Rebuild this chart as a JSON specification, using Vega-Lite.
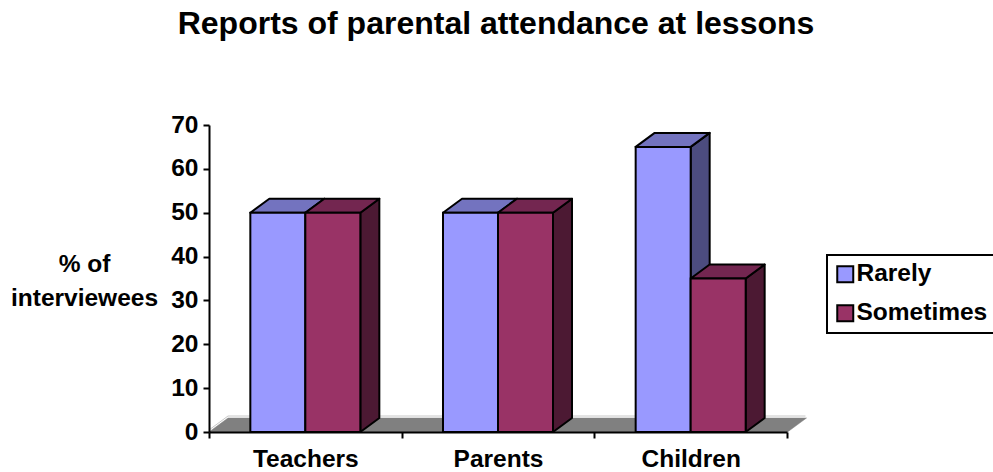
{"$schema":"https://vega.github.io/schema/vega-lite/v6.json","width":578,"height":307,"autosize":"none","padding":{"left":209,"top":125,"right":206,"bottom":40},"background":"white","view":{"stroke":null},
"title":{"text":"Reports of parental attendance at lessons","anchor":"middle","frame":"group","dx":-2,"offset":71,"fontSize":32,"font":"Liberation Sans","fontWeight":"bold","color":"black"},
"config":{"font":"Liberation Sans","legend":{"strokeWidth":2}},
"data":{"values":[{"group":"Teachers","series":"Rarely","value":50},{"group":"Teachers","series":"Sometimes","value":50},{"group":"Parents","series":"Rarely","value":50},{"group":"Parents","series":"Sometimes","value":50},{"group":"Children","series":"Rarely","value":65},{"group":"Children","series":"Sometimes","value":35}]},
"encoding":{
"x":{"field":"group","type":"nominal","title":null,"scale":{"domain":["Teachers","Parents","Children"],"paddingInner":0,"paddingOuter":0},"axis":{"tickBand":"extent","labelAngle":0,"labelFontSize":24.5,"labelFontWeight":"bold","labelColor":"black","labelPadding":9,"domainColor":"black","domainWidth":2,"tickColor":"black","tickWidth":2,"tickSize":6,"zindex":1,"grid":false}},
"xOffset":{"field":"series","type":"nominal","scale":{"domain":["Rarely","Sometimes"],"paddingInner":0,"paddingOuter":0.7515}},
"y":{"field":"value","type":"quantitative","scale":{"domain":[0,70],"nice":false},"axis":{"values":[0,10,20,30,40,50,60,70],"grid":false,"title":["% of","interviewees"],"titleAngle":0,"titleAlign":"center","titleBaseline":"alphabetic","titleX":-125,"titleY":146,"titleLineHeight":34,"titleFontSize":24.5,"titleFontWeight":"bold","titleColor":"black","labelFontSize":24.5,"labelFontWeight":"bold","labelColor":"black","labelPadding":5,"domainColor":"black","domainWidth":2,"tickColor":"black","tickWidth":2,"tickSize":6,"zindex":1}}
},
"layer":[
{"transform":[{"filter":"datum.group==='Parents' && datum.series==='Rarely'"}],"mark":{"type":"point","filled":true,"opacity":1,"size":4,"fill":"#808080","stroke":"#808080","strokeWidth":0.5,"shape":"M-261.5,219.3L-242.5,205.3L336,205.3L317,219.3Z"}},
{"transform":[{"filter":"datum.group==='Parents' && datum.series==='Rarely'"}],"mark":{"type":"point","filled":false,"opacity":1,"size":4,"stroke":"#c8c8c8","strokeWidth":1,"shape":"M-261.5,217.3L-242.5,203.3L335,203.3"}},
{"mark":{"type":"point","filled":true,"opacity":1,"size":4,"stroke":"black","strokeWidth":2,"strokeJoin":"round"},"encoding":{"shape":{"field":"value","type":"nominal","legend":null,"scale":{"domain":[35,50,65],"range":["M27.5,0L46.5,-14L46.5,139.5L27.5,153.5Z","M27.5,0L46.5,-14L46.5,205.3L27.5,219.3Z","M27.5,0L46.5,-14L46.5,271L27.5,285Z"]}},"fill":{"condition":{"test":"datum.series==='Rarely'","value":"#4C4C7F"},"value":"#4C1933"}}},
{"mark":{"type":"point","filled":true,"opacity":1,"size":4,"stroke":"black","strokeWidth":2,"strokeJoin":"round","shape":"M-27.5,0L-8.5,-14L46.5,-14L27.5,0Z"},"encoding":{"fill":{"condition":{"test":"datum.series==='Rarely'","value":"#7373BF"},"value":"#732650"}}},
{"mark":{"type":"bar","stroke":"black","strokeWidth":2},"encoding":{"fill":{"field":"series","type":"nominal","scale":{"domain":["Rarely","Sometimes"],"range":["#9999FF","#993366"]},"legend":{"title":null,"orient":"none","legendX":618,"legendY":130,"fillColor":"white","strokeColor":"black","padding":7,"symbolType":"square","symbolSize":256,"symbolOffset":-1,"symbolStrokeColor":"black","symbolStrokeWidth":2,"symbolOpacity":1,"labelFontSize":24.5,"labelFontWeight":"bold","labelColor":"black","labelOffset":-1,"rowPadding":13}}}}
]}
